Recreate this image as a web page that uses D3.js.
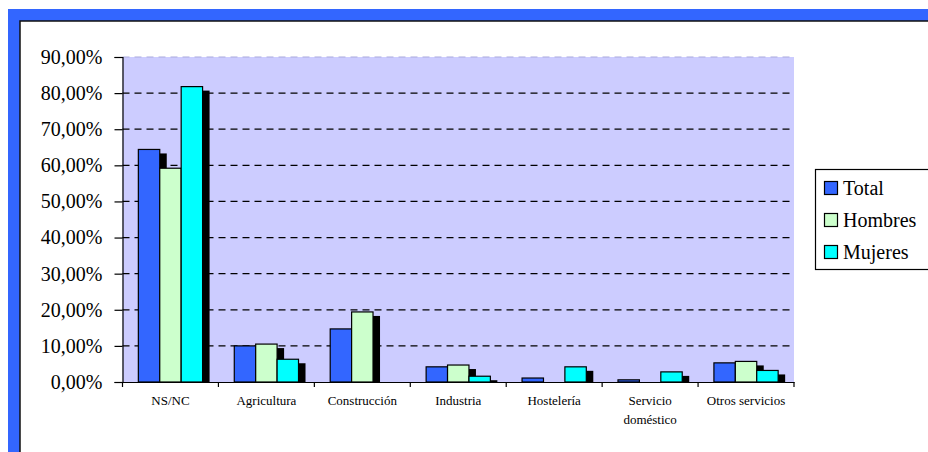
<!DOCTYPE html>
<html><head><meta charset="utf-8">
<script src="https://cdn.jsdelivr.net/npm/d3@7"></script>
<style>body{margin:0;background:#fff} svg{display:block} svg text{font-family:"Liberation Serif","Times New Roman",serif !important;}</style>
</head><body><svg id="c" width="928" height="452"></svg>
<script>
const categories = ["NS/NC","Agricultura","Construcción","Industria","Hostelería","Servicio doméstico","Otros servicios"];
const seriesNames = ["Total","Hombres","Mujeres"];
const total   = [64.4, 10.0, 14.7, 4.2, 1.1, 0.6, 5.3];
const hombres = [59.2, 10.5, 19.4, 4.7, 0.0, 0.0, 5.7];
const mujeres = [81.8,  6.3,  0.0, 1.6, 4.2, 2.8, 3.2];
const yTicks = [0,10,20,30,40,50,60,70,80,90];
const colors = ["#3366FF","#CCFFCC","#00FFFF"];

const seriesValues = [total, hombres, mujeres];
const svg = d3.select("#c");

// frame
svg.append("rect").attr("x",8).attr("y",9).attr("width",930).attr("height",450).attr("fill","#3366FF");
svg.append("rect").attr("x",20).attr("y",21).attr("width",930).attr("height",450)
  .attr("fill","#fff").attr("stroke","#111").attr("stroke-width",1.5);

const x = d3.scaleBand().domain(categories).range([122.5, 794]).paddingInner(0).paddingOuter(0);
const x1 = d3.scaleBand().domain(seriesNames).range([0, x.bandwidth()]).paddingInner(0).paddingOuter(0.74);
const y = d3.scaleLinear().domain([0,90]).range([382, 57]);

// plot background
svg.append("rect").attr("x",x.range()[0]).attr("y",y(90)).attr("width",x.range()[1]-x.range()[0])
  .attr("height",y(0)-y(90)).attr("fill","#CCCCFF");

// gridlines
svg.append("g").selectAll("line").data(yTicks.filter(d=>d>0)).join("line")
  .attr("x1",x.range()[0]).attr("x2",x.range()[1])
  .attr("y1",d=>y(d)).attr("y2",d=>y(d))
  .attr("stroke",d=>d===90?"#aaaadd":"#000").attr("stroke-width",1.2)
  .attr("stroke-dasharray","7,5");

// bars with shadows
svg.append("clipPath").attr("id","pc").append("rect")
  .attr("x",x.range()[0]).attr("y",0).attr("width",800).attr("height",y(0));
const bars = svg.append("g").attr("clip-path","url(#pc)");
seriesNames.forEach((s,i)=>{
  const vals = seriesValues[i];
  const g = bars.append("g");
  const data = categories.map((c,j)=>({c, v: vals[j]})).filter(d=>d.v>0);
  g.selectAll("rect.sh").data(data).join("rect").attr("class","sh")
    .attr("x",d=>x(d.c)+x1(s)+7).attr("y",d=>y(d.v)+4)
    .attr("width",x1.bandwidth()).attr("height",d=>y(0)-y(d.v)).attr("fill","#000");
  g.selectAll("rect.b").data(data).join("rect").attr("class","b")
    .attr("x",d=>x(d.c)+x1(s)).attr("y",d=>y(d.v))
    .attr("width",x1.bandwidth()).attr("height",d=>y(0)-y(d.v))
    .attr("fill",colors[i]).attr("stroke","#000").attr("stroke-width",1.2);
});

// y axis
const yAxis = d3.axisLeft(y).tickValues(yTicks).tickSize(8).tickPadding(12)
  .tickFormat(d=>d3.format(".2f")(d).replace(".",",")+"%");
const gy = svg.append("g").attr("transform",`translate(${x.range()[0]},0)`).call(yAxis);
gy.select(".domain").attr("stroke","#000").attr("stroke-width",1.2);
gy.selectAll(".tick line").attr("stroke","#000").attr("stroke-width",1.2);
gy.selectAll("text").attr("font-size",20).attr("fill","#000");

// x axis
const xAxis = d3.axisBottom(x).tickSize(0).tickFormat("");
const gx = svg.append("g").attr("transform",`translate(0,${y(0)})`).call(xAxis);
gx.select(".domain").attr("stroke","#000").attr("stroke-width",1.2);
const edges = categories.map(c=>x(c)).concat([x.range()[1]]);
gx.selectAll("line.edge").data(edges).join("line").attr("class","edge")
  .attr("x1",d=>d).attr("x2",d=>d).attr("y1",0).attr("y2",5).attr("stroke","#000").attr("stroke-width",1.2);
const lbl = svg.append("g").selectAll("text").data(categories).join("text")
  .attr("x",d=>x(d)+x.bandwidth()/2).attr("y",405)
  .attr("text-anchor","middle").attr("font-size",13).attr("fill","#000");
lbl.each(function(d){
  const t = d3.select(this);
  const parts = d==="Servicio doméstico" ? ["Servicio","doméstico"] : [d];
  parts.forEach((p,k)=>t.append("tspan").attr("x",x(d)+x.bandwidth()/2).attr("dy",k?19:0).text(p));
});

// legend
const lg = svg.append("g");
lg.append("rect").attr("x",815.5).attr("y",169.5).attr("width",120).attr("height",100)
  .attr("fill","#fff").attr("stroke","#000").attr("stroke-width",1.2);
seriesNames.forEach((s,i)=>{
  const cy = 188 + i*32;
  lg.append("rect").attr("x",824.5).attr("y",cy-6.5).attr("width",13).attr("height",13)
    .attr("fill",colors[i]).attr("stroke","#000").attr("stroke-width",1.2);
  lg.append("text").attr("x",843).attr("y",cy+7).attr("font-size",20)
    .attr("fill","#000").text(s);
});
</script></body></html>
